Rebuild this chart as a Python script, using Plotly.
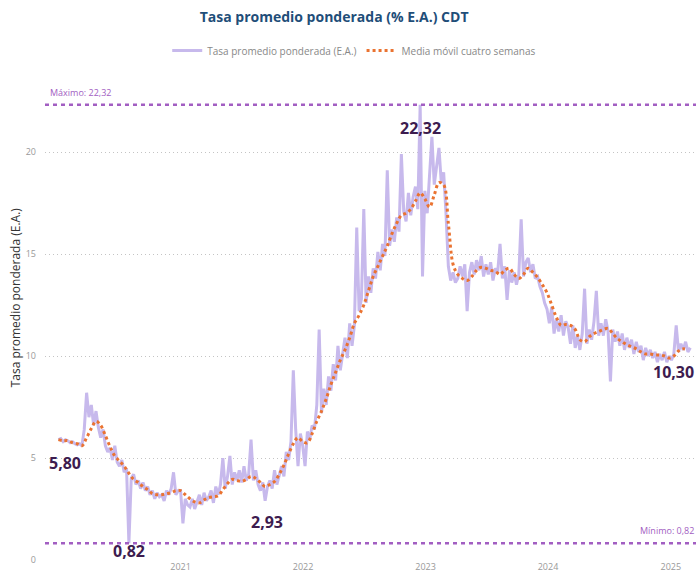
import pandas as pd
import plotly.graph_objects as go

# ---------------- data ----------------
raw_start = "2020-01-03"
raw_2020 = [5.9, 5.95, 5.8, 5.9, 5.85, 5.75, 5.8, 5.7, 5.65, 5.7, 5.6,
            6.4, 8.2, 7.0, 7.6, 6.6, 7.3,
            6.5, 6.0, 6.4, 5.6, 5.3,
            5.5, 4.9, 5.6, 4.8,
            4.6, 4.9, 4.3, 4.5, 0.82,
            4.0, 4.2, 3.7, 3.9,
            3.5, 3.8, 3.4, 3.6,
            3.2, 3.4, 3.0, 3.3, 3.1,
            3.2, 2.9, 3.4, 3.2,
            3.5, 4.3, 3.2, 3.4]
raw_2021 = [3.4, 1.8, 3.0, 2.7,
            2.6, 3.0, 2.5, 2.9,
            3.2, 2.7, 3.3, 2.9, 3.1,
            3.4, 2.8, 3.6, 3.2,
            3.7, 5.0, 3.5, 4.1,
            5.1, 3.7, 4.3, 3.9,
            4.4, 3.8, 4.6, 3.9, 4.2,
            5.9, 3.9, 4.4, 3.7,
            3.4, 3.8, 2.9, 3.6,
            3.9, 3.5, 4.4, 3.7, 4.2,
            4.6, 4.1, 5.3, 4.9, 5.8,
            9.3, 6.4, 4.6, 6.2]
raw_2022 = [5.6, 4.6, 6.3, 5.9, 6.6,
            6.4, 7.6, 11.3, 7.2,
            8.4, 7.6, 9.0, 8.3,
            9.6, 8.8, 10.5, 9.3, 10.1,
            10.9, 9.9, 11.6, 10.5,
            11.5, 16.3, 12.2, 12.8,
            17.2, 12.6, 13.9, 13.1, 14.3,
            13.8, 15.1, 14.2, 15.5,
            14.9, 19.1, 15.4, 16.2, 15.6,
            16.8, 16.1, 19.9, 17.1,
            16.6, 18.0, 16.9, 17.8,
            18.3, 17.2, 22.32, 13.9]
raw_2023 = [18.1, 17.0, 19.0, 20.75, 18.4,
            19.3, 20.2, 18.5, 19.0,
            17.0, 14.4, 13.7, 14.1, 13.6,
            13.8, 14.4, 13.9, 14.5,
            12.2, 14.1, 14.6, 14.0,
            14.7, 14.2, 14.9, 13.9, 14.5,
            14.0, 14.6, 13.7, 14.3,
            14.1, 15.5, 13.8, 14.4,
            12.75, 14.2, 13.6, 14.1, 13.5,
            14.0, 16.7, 13.9, 14.6,
            14.8, 14.1, 14.5, 13.8,
            13.9, 13.4, 13.1, 12.6]
raw_2024 = [12.3, 11.6, 12.4, 11.1, 11.8,
            11.2, 12.0, 11.0, 11.7,
            11.4, 10.6, 11.5, 10.4, 11.0,
            10.3, 11.1, 13.3, 10.6,
            11.3, 10.8, 11.7, 13.2, 11.0,
            11.6, 11.0, 11.8, 11.2,
            8.75, 11.3, 10.7, 11.2,
            10.5, 11.1, 10.3, 10.9, 10.4,
            10.8, 10.1, 10.7, 10.2,
            10.5, 9.8, 10.4, 10.0,
            10.3, 9.9, 10.2, 9.7, 10.1,
            9.8, 10.2, 9.7]
raw_2025 = [10.0, 9.8, 10.1, 11.5, 10.2, 10.6, 10.3, 10.7, 10.2, 10.4]

ma_start = "2020-01-03"
ma_2020 = [5.9, 5.85, 5.85, 5.75, 5.7, 5.6, 6.0, 6.45, 6.8, 6.6, 6.1, 5.55, 5.1,
           4.85, 4.6, 4.25, 3.95, 3.8, 3.6, 3.45, 3.25, 3.2, 3.2, 3.25, 3.3, 3.4]
ma_2021 = [3.4, 3.2, 3.0, 2.85, 2.8, 2.95, 3.05, 3.1, 3.15, 3.45, 3.75, 3.95, 3.9,
           3.85, 3.95, 4.1, 4.0, 3.8, 3.6, 3.7, 3.85, 4.2, 4.65, 5.2, 5.7, 6.0]
ma_2022 = [5.8, 5.75, 6.2, 6.8, 7.3, 7.9, 8.6, 9.2, 9.8, 10.3, 10.9, 11.6, 12.0,
           12.5, 13.2, 13.9, 14.4, 14.9, 15.4, 16.0, 16.5, 16.9, 17.0, 17.2, 17.6, 18.0]
ma_2023 = [17.7, 17.3, 17.9, 18.5, 18.4, 16.5, 14.5, 14.0, 13.8, 13.7, 13.9, 14.2, 14.35,
           14.3, 14.2, 14.15, 14.0, 14.2, 14.3, 14.0, 13.8, 14.0, 14.3, 14.1, 13.85, 13.5]
ma_2024 = [13.1, 12.5, 11.9, 11.5, 11.55, 11.5, 11.3, 10.8, 10.7, 10.95, 11.1, 11.2, 11.3,
           11.35, 11.1, 10.85, 10.7, 10.55, 10.45, 10.35, 10.2, 10.1, 10.1, 10.05, 10.05, 10.0]
ma_2025 = [9.9, 10.0, 10.25, 10.35, 10.3]

max_value = 22.32
min_value = 0.82
max_date = "2022-12-16"
min_date = "2020-07-31"
first_value = 5.80
mid_value = 2.93
last_value = 10.30

series_names = ["Tasa promedio ponderada (E.A.)", "Media móvil cuatro semanas"]
year_ticks = ["2021-01-01", "2022-01-01", "2023-01-01", "2024-01-01", "2025-01-01"]
year_labels = ["2021", "2022", "2023", "2024", "2025"]
y_ticks = [0, 5, 10, 15, 20]

# ---------------- build ----------------
raw_vals = raw_2020 + raw_2021 + raw_2022 + raw_2023 + raw_2024 + raw_2025
raw_dates = pd.date_range(raw_start, periods=len(raw_vals), freq="7D")
ma_vals = ma_2020 + ma_2021 + ma_2022 + ma_2023 + ma_2024 + ma_2025
ma_dates = pd.date_range(ma_start, periods=len(ma_vals), freq="14D")

def fmt(v):
    return f"{v:.2f}".replace(".", ",")

FONT = "Open Sans"
LABEL_COLOR = "#3d1c4f"
REF_COLOR = "#a25ec2"

fig = go.Figure()
fig.add_trace(go.Scatter(x=raw_dates, y=raw_vals, mode="lines", name=series_names[0],
                         line=dict(color="#c7b9ec", width=3)))
fig.add_trace(go.Scatter(x=ma_dates, y=ma_vals, mode="lines", name=series_names[1],
                         line=dict(color="#ea7331", width=3, dash="3px,3px", shape="spline")))

for val in (max_value, min_value):
    fig.add_shape(type="line", xref="paper", x0=0, x1=1, yref="y", y0=val, y1=val,
                  line=dict(color=REF_COLOR, width=2.5, dash="4px,4px"), layer="above")

fig.add_annotation(xref="paper", x=0.005, y=max_value, yanchor="bottom", xanchor="left",
                   yshift=4, text="Máximo: " + fmt(max_value), showarrow=False,
                   font=dict(size=9, color=REF_COLOR, family=FONT))
fig.add_annotation(xref="paper", x=1, y=min_value, yanchor="bottom", xanchor="right",
                   yshift=4, text="Mínimo: " + fmt(min_value), showarrow=False,
                   font=dict(size=9, color=REF_COLOR, family=FONT))

big = dict(size=16, color=LABEL_COLOR, family=FONT, weight="bold")
fig.add_annotation(x="2020-01-23", y=4.75, text=fmt(first_value), showarrow=False, font=big)
fig.add_annotation(x=min_date, y=0.42, text=fmt(min_value), showarrow=False, font=big)
fig.add_annotation(x="2021-09-16", y=1.86, text=fmt(mid_value), showarrow=False, font=big)
fig.add_annotation(x=max_date, y=21.2, text=fmt(max_value), showarrow=False, font=big)
fig.add_annotation(xref="paper", x=1.0, y=9.2, text=fmt(last_value), showarrow=False,
                   xanchor="right", font=big)

fig.add_annotation(xref="paper", yref="paper", x=-0.046, y=0.57, textangle=-90,
                   xanchor="center", yanchor="middle",
                   text="Tasa promedio ponderada (E.A.)", showarrow=False,
                   font=dict(size=12, color="#333333", family=FONT))

fig.update_layout(
    width=696, height=577,
    margin=dict(l=45, r=0, t=99, b=17),
    paper_bgcolor="white", plot_bgcolor="white",
    font=dict(family=FONT, color="#777777"),
    title=dict(text="Tasa promedio ponderada (% E.A.) CDT", x=0.48, xanchor="center",
               y=0.978, yanchor="top",
               font=dict(size=14, color="#1f4e79", family=FONT, weight="bold")),
    showlegend=True,
    legend=dict(orientation="h", x=0.475, xanchor="center", y=1.105, yanchor="middle",
                font=dict(size=10, color="#888888", family=FONT), itemwidth=30,
                tracegroupgap=0),
    xaxis=dict(range=["2019-11-24", "2025-03-17"], tickvals=year_ticks, ticktext=year_labels,
               showgrid=False, zeroline=False, showline=False, ticks="",
               tickfont=dict(size=9, color="#999999")),
    yaxis=dict(range=[0, 22.6], tickvals=y_ticks, showgrid=True, gridcolor="#c4c4c4",
               griddash="1px,3px", gridwidth=1, zeroline=False, showline=False, ticks="",
               tickfont=dict(size=9, color="#999999"), ticklabelstandoff=8),
)

fig.write_html("out.html", config={"displayModeBar": False},
               post_script="document.body.style.margin='0';")
